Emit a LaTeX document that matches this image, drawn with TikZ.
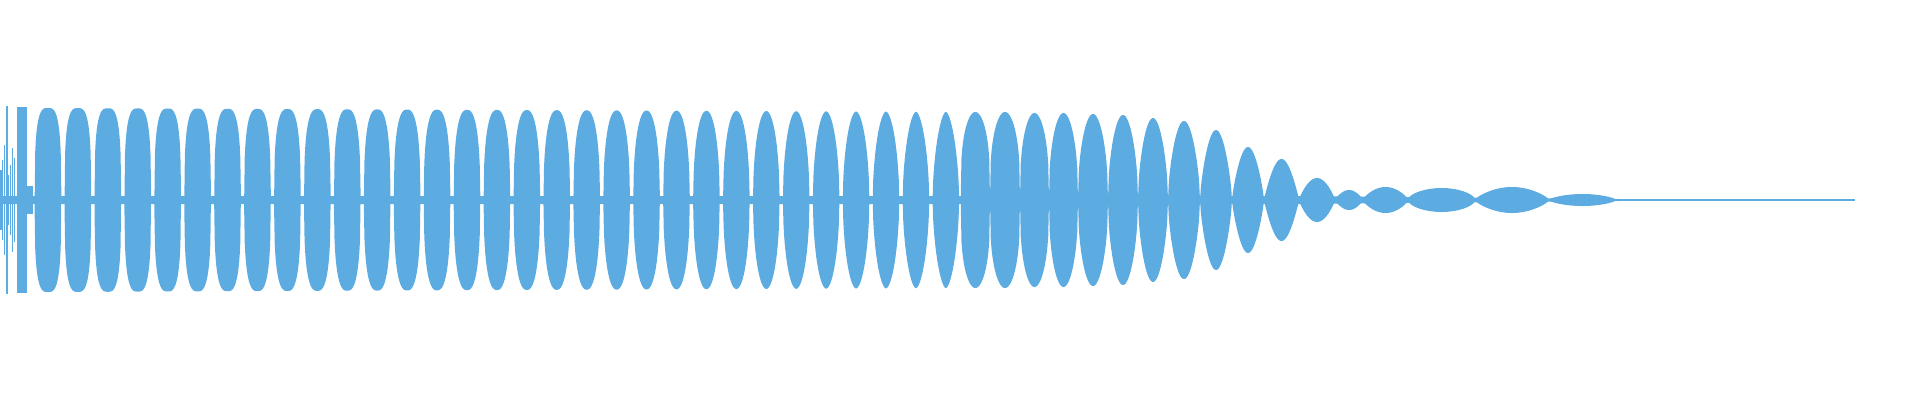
\documentclass[tikz,border=0pt]{standalone}
\definecolor{wave}{HTML}{5DACE1}
\begin{document}
\begin{tikzpicture}[x=1pt,y=-1pt,lobe/.style={fill=wave}]
\useasboundingbox (0,0) rectangle (1920,400);
% central band
\fill[wave] (0,196) -- (1300,196) -- (1620,199) -- (1620,201) -- (1300,204) -- (0,204) -- cycle;
\fill[wave] (1600,199.2) rectangle (1855,200.8);
% left spikes
\foreach \xa/\xb/\A in {0/1.5/30, 2/3/40, 3.5/4.5/55, 5.5/7.5/94, 8/9/25, 10/11/35, 11.5/13/52, 14/15/42, 16.5/27/93, 27/33/14}
  \fill[wave] (\xa,200-\A) rectangle (\xb,200+\A);
% regular lobes (superellipse)
\foreach \i in {0,...,30}{
  \pgfmathsetmacro\xc{33+29.93*\i+14.96}
  \pgfmathsetmacro\A{92-0.13*\i}
  \pgfmathsetmacro\p{3.2-0.05*\i}
  \fill[lobe] plot[domain=-1:1,samples=50] ({\xc+13.3*\x},{200-\A*(1-abs(\x)^\p)^(1/\p)})
     -- plot[domain=1:-1,samples=50] ({\xc+13.3*\x},{200+\A*(1-abs(\x)^\p)^(1/\p)}) -- cycle;
}
% decaying lobes
\foreach \xa/\xb/\A/\q in {960.7/990/88/0.3, 990/1020/88/0.32, 1020/1049/87/0.35, 1049/1078/87/0.4, 1078/1108/86/0.45, 1108/1138/85/0.5, 1138/1168/82/0.55, 1168/1200/79/0.6, 1200/1232/70/0.7, 1232/1264/53/0.8, 1264/1299/41/0.9, 1299/1335/22/0.8, 1335/1363/10/0.8, 1363/1408/13/0.7, 1408/1475/12/0.5, 1475/1549/13/0.7, 1549/1616/6/0.6}
  \fill[lobe] plot[domain=0:180,samples=40] ({\xa+(\xb-\xa)*\x/180},{200-\A*sin(\x)^\q})
     -- plot[domain=180:0,samples=40] ({\xa+(\xb-\xa)*\x/180},{200+\A*sin(\x)^\q}) -- cycle;
\end{tikzpicture}
\end{document}
